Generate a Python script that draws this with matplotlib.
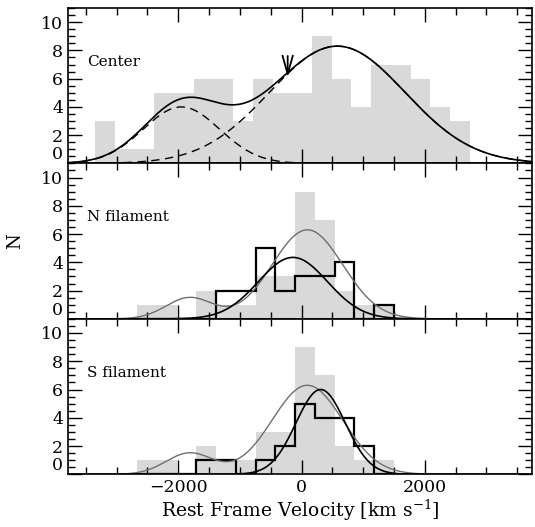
import matplotlib
matplotlib.use("Agg")
import matplotlib.pyplot as plt
import numpy as np
from matplotlib.ticker import MultipleLocator

plt.rcParams["font.family"] = "DejaVu Serif"
plt.rcParams["mathtext.fontset"] = "dejavuserif"

# histogram bins (km/s)
BIN_WIDTH = 320
CENTER_START = -3350
FIL_START = -2665

# counts per bin
center_counts = [3, 1, 1, 5, 5, 6, 6, 3, 6, 5, 5, 9, 6, 4, 7, 7, 6, 4, 3]
all_counts = [1, 1, 0, 2, 1, 1, 3, 3, 9, 7, 2, 1, 1]
n_counts = [0, 0, 0, 0, 2, 2, 5, 2, 3, 3, 4, 0, 1]
s_counts = [0, 0, 0, 1, 1, 0, 1, 2, 5, 4, 4, 2, 0]

# gaussian fits: (amplitude, mean, sigma)
center_fit = [(4.0, -1950, 620), (8.3, 580, 1100)]
all_fit = [(1.5, -1820, 380), (6.3, 95, 575)]
n_fit = [(4.35, -140, 560)]
s_fit = [(6.0, 310, 400)]

panel_names = ["Center", "N filament", "S filament"]
arrow_v = -225

GRAY_FILL = "#d9d9d9"
GRAY_LINE = "#6e6e6e"


def gauss(v, amp, mu, sig):
    return amp * np.exp(-(v - mu) ** 2 / (2.0 * sig ** 2))


def model(v, comps):
    return sum(gauss(v, *c) for c in comps)


v = np.linspace(-3790, 3740, 800)
center_edges = CENTER_START + BIN_WIDTH * np.arange(len(center_counts) + 1)
fil_edges = FIL_START + BIN_WIDTH * np.arange(len(all_counts) + 1)

fig = plt.figure(figsize=(5.35, 5.27), dpi=100)
left, right = 68 / 535, 532 / 535
bottom, top = 1 - 474.3 / 527, 1 - 8 / 527
h = (top - bottom) / 3
axes = [fig.add_axes([left, bottom + (2 - i) * h, right - left, h]) for i in range(3)]

# Center
ax = axes[0]
ax.stairs(center_counts, center_edges, baseline=0, fill=True, color=GRAY_FILL, lw=0)
for c in center_fit:
    ax.plot(v, gauss(v, *c), color="black", lw=1.0, ls=(0, (6, 4)))
ax.plot(v, model(v, center_fit), color="black", lw=1.2)
ax.annotate("", xy=(arrow_v, 5.9), xytext=(arrow_v, 7.8),
            arrowprops=dict(arrowstyle="->,head_length=0.6,head_width=0.17",
                            color="black", lw=1.3, mutation_scale=22))

# N filament
ax = axes[1]
ax.stairs(all_counts, fil_edges, baseline=0, fill=True, color=GRAY_FILL, lw=0)
ax.plot(v, model(v, all_fit), color=GRAY_LINE, lw=1.0)
ax.stairs(n_counts, fil_edges, baseline=0, color="black", lw=1.6)
ax.plot(v, model(v, n_fit), color="black", lw=1.2)
ax.set_ylabel("N", fontsize=13, labelpad=12)

# S filament
ax = axes[2]
ax.stairs(all_counts, fil_edges, baseline=0, fill=True, color=GRAY_FILL, lw=0)
ax.plot(v, model(v, all_fit), color=GRAY_LINE, lw=1.0)
ax.stairs(s_counts, fil_edges, baseline=0, color="black", lw=1.6)
ax.plot(v, model(v, s_fit), color="black", lw=1.2)
ax.set_xlabel("Rest Frame Velocity [km s$^{-1}$]", fontsize=13.5, labelpad=1)

for i, ax in enumerate(axes):
    ax.set_xlim(-3790, 3740)
    ax.set_ylim(0, 11)
    ax.xaxis.set_major_locator(MultipleLocator(2000))
    ax.xaxis.set_minor_locator(MultipleLocator(500))
    ax.yaxis.set_major_locator(MultipleLocator(2))
    ax.yaxis.set_minor_locator(MultipleLocator(0.5))
    ax.tick_params(which="both", direction="in", top=True, right=True, labelsize=12.5)
    ax.tick_params(which="major", length=10, width=1)
    ax.tick_params(which="minor", length=5, width=1)
    for sp in ax.spines.values():
        sp.set_linewidth(1.2)
    ax.text(-3480, 7.2, panel_names[i], fontsize=11, va="center", ha="left")
    if i < 2:
        ax.tick_params(labelbottom=False)
    fig.canvas.draw()
    for lab in ax.get_yticklabels():
        if lab.get_position()[1] == 0:
            lab.set_verticalalignment("bottom")

fig.savefig("out.png", dpi=100)
